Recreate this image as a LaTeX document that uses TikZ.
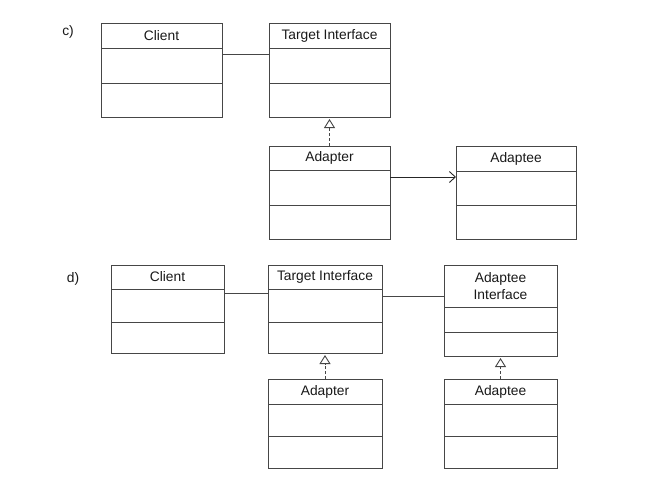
\documentclass[tikz,border=0pt]{standalone}
\usepackage{fontspec}
\setmainfont{Liberation Sans}
\usetikzlibrary{positioning,arrows.meta}

\begin{document}
\begin{tikzpicture}[x=1pt,y=-1pt,
  umlhead/.style={draw=boxgray,line width=0.9pt,outer sep=0pt,inner sep=0pt,
    minimum width=#1,align=center,anchor=north west,text=textgray,
    font=\fontsize{13.8}{16.5}\selectfont},
  umlpart/.style={draw=boxgray,line width=0.9pt,outer sep=0pt,inner sep=0pt,
    minimum width=#1},
  assoc/.style={draw=boxgray,line width=0.9pt},
  navig/.style={draw=black!85,line width=0.9pt,-{Straight Barb[length=6pt,width=11pt]}},
  realize/.style={draw=boxgray,line width=0.9pt,dash pattern=on 3pt off 2pt,
    -{Triangle[open,length=9pt,width=11pt]},shorten >=2pt}]
% Define colors
\definecolor{boxgray}{RGB}{70,70,70}
\definecolor{textgray}{RGB}{25,25,25}

\useasboundingbox (0,0) rectangle (656,491);

% Variant c)
\node[text=textgray,font=\fontsize{13.8}{16.5}\selectfont] (labc) at (68,32) {c)};

\node[umlhead=121pt,minimum height=25pt] (cli) at (101,23) {Client};
\node[umlpart=121pt,minimum height=35pt,below=0pt of cli] (cli-a) {};
\node[umlpart=121pt,minimum height=34pt,below=0pt of cli-a] (cli-b) {};

\node[umlhead=121pt,minimum height=25pt] (tgt) at (269,23) {Target Interface};
\node[umlpart=121pt,minimum height=35pt,below=0pt of tgt] (tgt-a) {};
\node[umlpart=121pt,minimum height=34pt,below=0pt of tgt-a] (tgt-b) {};

\node[umlhead=121pt,minimum height=24pt] (adp) at (269,146) {Adapter};
\node[umlpart=121pt,minimum height=35pt,below=0pt of adp] (adp-a) {};
\node[umlpart=121pt,minimum height=34pt,below=0pt of adp-a] (adp-b) {};

\node[umlhead=120pt,minimum height=25pt] (ade) at (456,146) {Adaptee};
\node[umlpart=120pt,minimum height=34pt,below=0pt of ade] (ade-a) {};
\node[umlpart=120pt,minimum height=34pt,below=0pt of ade-a] (ade-b) {};

% Connectors c)
\draw[assoc] ([yshift=-6pt]cli-a.north east) coordinate (p1) -- (p1 -| tgt-a.west);
\draw[realize] (adp.north) -- (tgt-b.south);
\draw[navig] ([yshift=-7pt]adp-a.north east) coordinate (p2) -- (p2 -| ade-a.west);

% Variant d)
\node[text=textgray,font=\fontsize{13.8}{16.5}\selectfont] (labd) at (73,279) {d)};

\node[umlhead=113pt,minimum height=24pt] (cli2) at (111,265) {Client};
\node[umlpart=113pt,minimum height=33pt,below=0pt of cli2] (cli2-a) {};
\node[umlpart=113pt,minimum height=31pt,below=0pt of cli2-a] (cli2-b) {};

\node[umlhead=114pt,minimum height=24pt] (tgt2) at (268,265) {Target Interface};
\node[umlpart=114pt,minimum height=33pt,below=0pt of tgt2] (tgt2-a) {};
\node[umlpart=114pt,minimum height=31pt,below=0pt of tgt2-a] (tgt2-b) {};

\node[umlhead=114pt,minimum height=25pt] (adp2) at (268,379) {Adapter};
\node[umlpart=114pt,minimum height=32pt,below=0pt of adp2] (adp2-a) {};
\node[umlpart=114pt,minimum height=32pt,below=0pt of adp2-a] (adp2-b) {};

\node[umlhead=113pt,minimum height=42pt] (aif) at (444,265) {Adaptee\\Interface};
\node[umlpart=113pt,minimum height=25pt,below=0pt of aif] (aif-a) {};
\node[umlpart=113pt,minimum height=24pt,below=0pt of aif-a] (aif-b) {};

\node[umlhead=113pt,minimum height=25pt] (ade2) at (444,379) {Adaptee};
\node[umlpart=113pt,minimum height=32pt,below=0pt of ade2] (ade2-a) {};
\node[umlpart=113pt,minimum height=32pt,below=0pt of ade2-a] (ade2-b) {};

% Connectors d)
\draw[assoc] ([yshift=-4pt]cli2-a.north east) coordinate (p3) -- (p3 -| tgt2-a.west);
\draw[assoc] ([yshift=-7pt]tgt2-a.north east) coordinate (p4) -- (p4 -| aif.west);
\draw[realize] (adp2.north) -- (tgt2-b.south);
\draw[realize] (ade2.north) -- (aif-b.south);

\end{tikzpicture}
\end{document}
